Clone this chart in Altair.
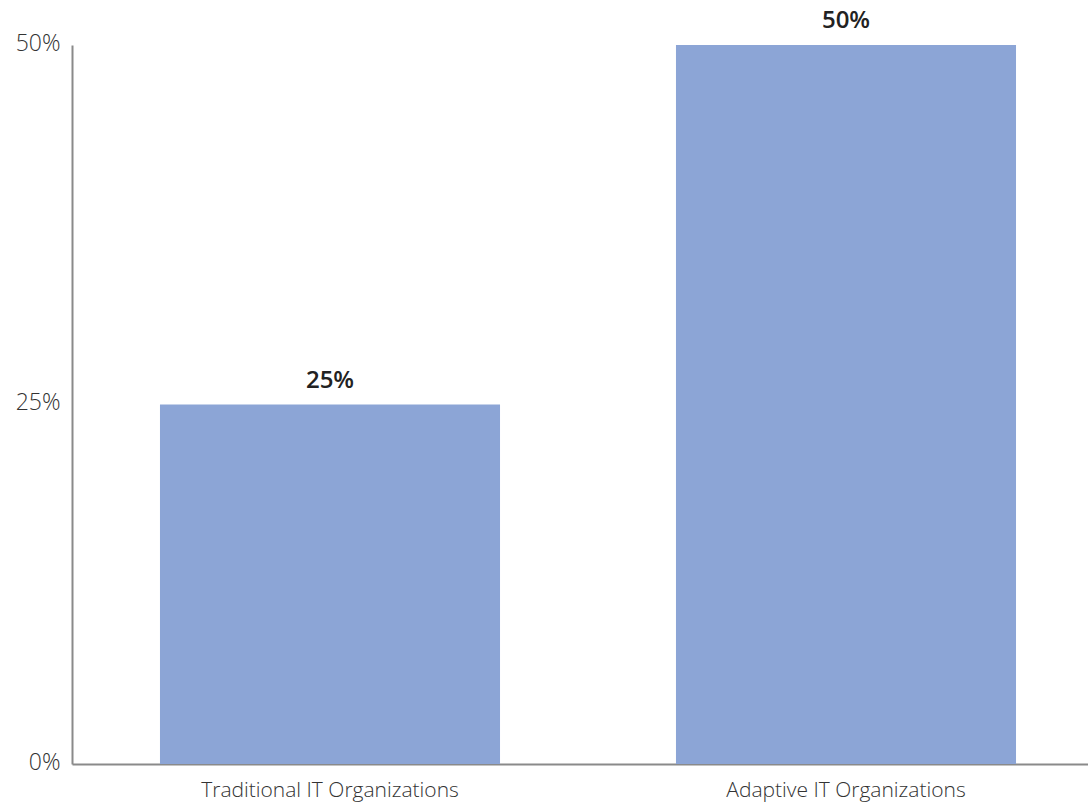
import altair as alt
import pandas as pd

categories = ["Traditional IT Organizations", "Adaptive IT Organizations"]
values = [25, 50]
labels = ["25%", "50%"]

df = pd.DataFrame({"cat": categories, "val": values, "lab": labels})

FONT = "Open Sans"

x = alt.X("cat:N", sort=categories, title=None,
          scale=alt.Scale(paddingInner=0.341, paddingOuter=0.155, align=0.55),
          axis=alt.Axis(labelAngle=0, labelFontSize=21, labelColor="#333333",
                        labelFont=FONT, labelFontWeight=300, ticks=False,
                        labelPadding=15, labelLimit=0,
                        domainColor="#8a8a8a", domainWidth=2))
y = alt.Y("val:Q", title=None,
          scale=alt.Scale(domain=[0, 50], nice=False),
          axis=alt.Axis(values=[0, 25, 50], labelExpr="datum.value + '%'",
                        grid=False, ticks=False, labelFontSize=23,
                        labelFontWeight=300, labelOffset=-2,
                        labelColor="#333333", labelFont=FONT, labelPadding=12,
                        domainColor="#8a8a8a", domainWidth=2))

bars = alt.Chart(df).mark_bar(color="#8ca5d6").encode(x=x, y=y)
text = alt.Chart(df).mark_text(baseline="bottom", dy=-12, fontSize=24,
                               fontWeight=600, font=FONT, color="#222222").encode(
    x=alt.X("cat:N", sort=categories), y="val:Q", text="lab:N")

chart = (bars + text).properties(
    width=1016, height=719,
    autosize=alt.AutoSizeParams(type="none"),
    padding={"left": 72, "top": 45, "right": 0, "bottom": 40},
).configure_view(stroke=None)

chart.save("out.html", embed_options={"renderer": "svg", "actions": False})
